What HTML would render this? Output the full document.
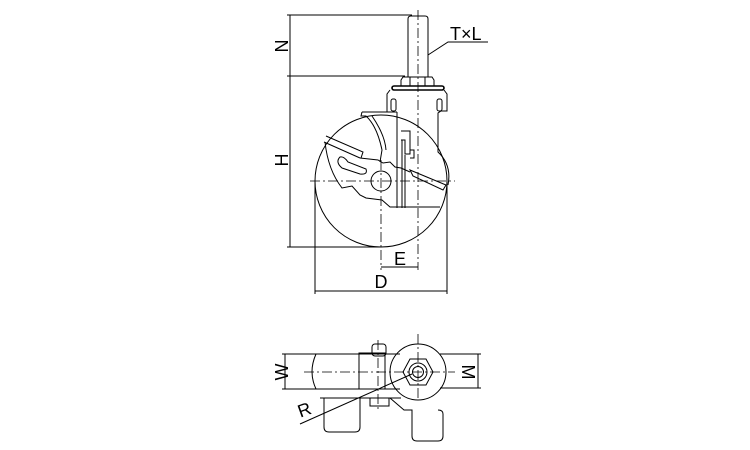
<!DOCTYPE html>
<html><head><style>html,body{margin:0;padding:0;background:#fff}svg{display:block}</style></head><body>
<svg width="750" height="450" viewBox="0 0 750 450" xmlns="http://www.w3.org/2000/svg" font-family="Liberation Sans, sans-serif">
<g fill="none" stroke="#000" stroke-width="1">
<!-- N / H dims -->
<line x1="287" y1="15" x2="412" y2="15"/>
<line x1="287" y1="76" x2="405" y2="76"/>
<line x1="287" y1="247" x2="381" y2="247"/>
<line x1="290" y1="15" x2="290" y2="247"/>
<!-- stem -->
<path d="M408 19 Q408 16 411 16 L425 16 Q428 16 428 19 L428 77 M408 19 L408 77"/>
<!-- nut -->
<path d="M403 77 L432 77 L434 80 L434 86 L401 86 L401 80 Z M410 77 L410 86 M425 77 L425 86"/>
<rect x="392" y="86" width="52" height="4" rx="2" stroke-width="1.6"/>
<!-- housing -->
<path d="M390 90 L387 94 L387 112 M444 90 L447 94 L447 111 L441 111 L438 113 L438 152 Q452 165 448 185"/>
<path d="M397 112 L397 208 M402 140 L402 208 M405 155 L405 208"/>
<rect x="391" y="99" width="5" height="12" rx="2"/>
<rect x="437" y="99" width="5" height="12" rx="2"/>
<path d="M401 131 L410 131 L410 154 L405 154 L405 140 L401 140 M410 150 L414 150 L414 158 L410 158"/>
<!-- wheel -->
<circle cx="381" cy="181" r="66"/>
<!-- fork top plate -->
<path d="M362 112 L397 112 M362 112 L361 116 L366 116 Q377 126 382 150 L380 162"/>
<path d="M372 116 Q385 135 386 150"/>
<!-- slanted left bar -->
<path d="M326 136 L363 152 L361 158 M324 142 L360 158"/>
<!-- plate outline -->
<path d="M325 142 Q328 170 342 188 L352 186 L360 195 L366 198 L382 200 L390 207 L440 207"/>
<path d="M360 158 L378 160 L383 163 L390 162 L395 167 L401 168 L410 172"/>
<!-- right slanted bar -->
<path d="M410 170 L446 185 L443 190 L413 176 Z"/>
<!-- slot -->
<path d="M340 157 Q335 162 342 168 L360 174 Q368 175 366 169 L348 162 Q344 156 340 157 Z"/>
<circle cx="381" cy="181" r="10"/>
<!-- center lines -->
<g stroke-dasharray="10,3,2,3" stroke-width="0.8">
<line x1="310" y1="181" x2="455" y2="181"/>
<line x1="418" y1="10" x2="418" y2="270"/>
<line x1="381" y1="160" x2="381" y2="270"/>
</g>
<!-- E, D dims -->
<line x1="381" y1="267" x2="418" y2="267"/>
<line x1="315" y1="181" x2="315" y2="294"/>
<line x1="447" y1="181" x2="447" y2="294"/>
<line x1="315" y1="291" x2="447" y2="291"/>
<!-- TxL leader -->
<path d="M428 55 L448 42 L488 42"/>

<!-- bottom view -->
<line x1="282" y1="354" x2="400" y2="354"/>
<line x1="282" y1="389" x2="400" y2="389"/>
<line x1="285" y1="354" x2="285" y2="389"/>
<line x1="440" y1="354" x2="481" y2="354"/>
<line x1="440" y1="388" x2="481" y2="388"/>
<line x1="478" y1="354" x2="478" y2="388"/>
<path d="M316 354 Q308 372 316 389"/>
<rect x="359" y="353" width="26" height="36"/>
<rect x="372" y="344" width="14" height="12" rx="3"/>
<circle cx="418" cy="372" r="28"/>
<path d="M403 372 L410 359 L426 359 L433 372 L426 385 L410 385 Z"/>
<circle cx="418" cy="372" r="9"/>
<circle cx="418" cy="372" r="5.5"/>
<path d="M320 398 L401 398 M324 398 L324 427 Q324 432 329 432 L355 432 Q360 432 360 427 L360 398"/>
<path d="M370 398 L370 406 L389 406 L389 398 M390 398 L404 410 L412 410 L412 436 Q412 441 417 441 L438 441 Q443 441 443 436 L443 414 Q443 410 438 410"/>
<path d="M300 424 L412 374"/>
<g stroke-dasharray="10,3,2,3" stroke-width="0.8">
<line x1="304" y1="372" x2="455" y2="372"/>
<line x1="418" y1="334" x2="418" y2="400"/>
<line x1="378" y1="340" x2="378" y2="412"/>
</g>
</g>
<g font-size="18" fill="#000">
<text x="282" y="52" transform="rotate(-90 282 46)" text-anchor="middle">N</text>
<text x="282" y="166" transform="rotate(-90 282 160)" text-anchor="middle">H</text>
<text x="400" y="265" text-anchor="middle">E</text>
<text x="381" y="288" text-anchor="middle">D</text>
<text x="450" y="40">T×L</text>
<text x="282" y="378" transform="rotate(-90 282 372)" text-anchor="middle">W</text>
<text x="468" y="378" transform="rotate(90 468 372)" text-anchor="middle">M</text>
<text x="298" y="416" transform="rotate(-20 304 410)">R</text>
</g>
</svg>
</body></html>
